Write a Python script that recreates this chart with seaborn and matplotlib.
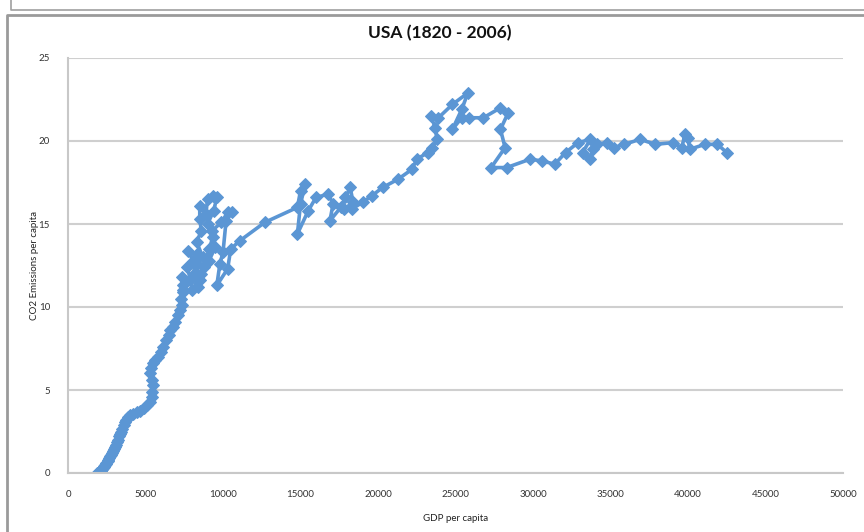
import matplotlib
matplotlib.use("Agg")
import matplotlib.pyplot as plt
from matplotlib.lines import Line2D
import seaborn as sns
import pandas as pd

# GDP per capita (x) and CO2 emissions per capita (y), in year order 1820 -> 2006
gdp_early = [1900, 1920, 1950, 1980, 2000, 2030, 2060, 2050, 2100, 2150, 2180, 2220, 2260, 2300,
             2350, 2400, 2420, 2480, 2550, 2600, 2650, 2700, 2760, 2820, 2900, 2950, 3000, 3080,
             3150, 3230, 3300, 3380, 3450, 3500, 3600, 3700, 3750, 3850, 4000, 4200, 4450, 4650,
             4900, 5100, 5300, 5400, 5450, 5480, 5400, 5300, 5350, 5500, 5600, 5800, 6000, 6150,
             6300, 6500, 6600, 6750, 6900, 7100, 7250, 7350, 7300, 7400, 7450]
co2_early = [0.00, 0.01, 0.02, 0.03, 0.05, 0.07, 0.09, 0.12, 0.15, 0.18, 0.22, 0.26, 0.30, 0.35,
             0.42, 0.50, 0.55, 0.62, 0.70, 0.80, 0.90, 1.00, 1.10, 1.20, 1.35, 1.45, 1.55, 1.70,
             1.85, 2.00, 2.20, 2.35, 2.50, 2.65, 2.90, 3.10, 3.20, 3.35, 3.50, 3.55, 3.70, 3.75,
             3.90, 4.10, 4.30, 4.60, 4.90, 5.30, 5.60, 6.00, 6.30, 6.60, 6.80, 7.00, 7.30, 7.60,
             8.00, 8.30, 8.60, 8.80, 9.10, 9.50, 9.80, 10.10, 10.50, 10.90, 11.30]
gdp_mid = [7350, 7400, 7900, 7700, 8050, 7750, 8300, 8100, 8500, 8300, 8700, 8300, 8600, 8500,
           8500, 8900, 9000, 9350, 9600, 9400, 9000, 9350, 9100, 8800, 8400, 8000, 8600, 9100,
           9500, 9300, 9900, 10300, 10600, 10200, 10000, 9800, 9600, 10300, 10500, 11100, 12700]
co2_mid = [11.8, 11.0, 11.6, 12.4, 12.8, 13.4, 13.2, 12.0, 11.6, 12.6, 13.0, 13.9, 14.6, 15.3,
           16.1, 15.6, 16.5, 16.7, 16.6, 15.8, 15.0, 14.2, 13.5, 12.4, 11.2, 11.0, 12.0, 12.8,
           13.6, 14.6, 15.1, 15.7, 15.7, 15.2, 13.3, 12.6, 11.3, 12.3, 13.5, 14.0, 15.1]
gdp_late = [14800, 15000, 15300, 15000, 14800, 15500, 16000, 16800, 17100, 16900, 17600, 17900,
            18200, 18400, 17800, 18300, 19000, 19600, 20300, 21300, 22200, 22500, 23200, 23500,
            23800, 23700, 23400, 23900, 24800, 25800, 25400, 24800, 25400, 25900, 26800, 27900,
            28400, 27900, 28200, 27300, 28300, 29800, 30600, 31400, 32100, 32900, 33700, 33200,
            33700, 33900, 34100, 34800, 35200, 35900, 36900, 37900, 39000, 39600, 39800, 40000,
            40100, 41100, 41900, 42500]
co2_late = [16.0, 17.0, 17.4, 16.2, 14.4, 15.8, 16.6, 16.8, 16.2, 15.2, 16.0, 16.6,
            17.2, 16.3, 15.9, 15.9, 16.3, 16.7, 17.2, 17.7, 18.3, 18.9, 19.3, 19.6,
            20.1, 20.8, 21.5, 21.4, 22.2, 22.9, 21.9, 20.7, 21.4, 21.4, 21.4, 22.0,
            21.7, 20.7, 19.6, 18.4, 18.4, 18.9, 18.8, 18.6, 19.3, 19.9, 20.1, 19.3,
            18.9, 19.5, 19.8, 19.9, 19.6, 19.8, 20.1, 19.8, 19.9, 19.6, 20.4, 20.2,
            19.5, 19.8, 19.8, 19.3]

title = "USA (1820 - 2006)"
xlabel = "GDP per capita"
ylabel = "CO2 Emissions per capita"
x_ticks = list(range(0, 50001, 5000))
y_ticks = [0, 5, 10, 15, 20, 25]

gdp = gdp_early + gdp_mid + gdp_late
co2 = co2_early + co2_mid + co2_late
df = pd.DataFrame({"gdp": gdp, "co2": co2})

sns.set_theme(style="white")
plt.rcParams["font.family"] = ["Lato", "DejaVu Sans"]

fig = plt.figure(figsize=(8.64, 5.32), dpi=100)
ax = fig.add_axes([68 / 864, 1 - 473 / 532, (843 - 68) / 864, (473 - 58) / 532])

color = "#5B96D4"
sns.lineplot(data=df, x="gdp", y="co2", sort=False, estimator=None, ax=ax,
             color=color, linewidth=2.6, marker="D", markersize=6,
             markeredgecolor=color, markerfacecolor=color)

ax.set_xlim(0, 50000)
ax.set_ylim(0, 25)
ax.set_xticks(x_ticks)
ax.set_xticklabels([str(v) for v in x_ticks])
ax.set_yticks(y_ticks)
ax.set_yticklabels([str(v) for v in y_ticks])
ax.yaxis.grid(True, color="#cfcfcf", linewidth=1.5)
ax.xaxis.grid(False)
ax.set_axisbelow(True)
for s in ["top", "right"]:
    ax.spines[s].set_visible(False)
for s in ["left", "bottom"]:
    ax.spines[s].set_color("#c8c8c8")
    ax.spines[s].set_linewidth(1.5)
ax.tick_params(axis="both", which="both", direction="out", length=4, width=1,
               color="#c8c8c8", labelsize=7, labelcolor="#333333")
ax.tick_params(axis="x", pad=8)
ax.tick_params(axis="y", pad=9)
ax.set_xlabel(xlabel, fontsize=7, color="#222222", labelpad=11)
ax.set_ylabel(ylabel, fontsize=7, color="#222222", labelpad=0)
fig.text(440 / 864, 1 - 33 / 532, title, ha="center", va="center",
         fontsize=12.5, fontweight="bold", color="#111111")

# surrounding chart frame lines
def fx(p):
    return p / 864
def fy(p):
    return 1 - p / 532
fig.add_artist(Line2D([fx(11), fx(11), fx(864)], [fy(0), fy(10), fy(10)],
                      color="#a0a0a0", linewidth=1.2))
fig.add_artist(Line2D([fx(7), fx(7), fx(864)], [fy(532), fy(15), fy(15)],
                      color="#9a9a9a", linewidth=2))

fig.savefig("out.png", dpi=100)
